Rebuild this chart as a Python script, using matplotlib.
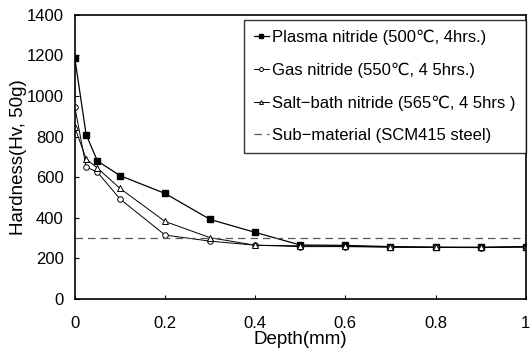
import matplotlib
matplotlib.use("Agg")
import matplotlib.pyplot as plt

plt.rcParams['font.family'] = ['Liberation Sans', 'DejaVu Sans']

depth = [0, 0.025, 0.05, 0.1, 0.2, 0.3, 0.4, 0.5, 0.6, 0.7, 0.8, 0.9, 1.0]
plasma = [1185, 810, 680, 608, 520, 392, 328, 266, 264, 258, 255, 255, 258]
gas = [945, 650, 625, 493, 315, 285, 265, 258, 258, 255, 254, 253, 256]
salt = [845, 690, 645, 545, 382, 302, 265, 262, 260, 257, 255, 254, 257]
sub_x = [0, 1.0]
sub_y = [300, 300]

labels = ["Plasma nitride (500\u2103, 4hrs.)",
          "Gas nitride (550\u2103, 4 5hrs.)",
          "Salt\u2212bath nitride (565\u2103, 4 5hrs )",
          "Sub\u2212material (SCM415 steel)"]
xticks = [0, 0.2, 0.4, 0.6, 0.8, 1.0]
xticklabels = ["0", "0.2", "0.4", "0.6", "0.8", "1"]
yticks = [0, 200, 400, 600, 800, 1000, 1200, 1400]

fig = plt.figure(figsize=(5.31, 3.53), dpi=100)
ax = fig.add_axes([0.141, 0.153, 0.849, 0.805])

ax.plot(depth, plasma, color='black', lw=0.9, marker='s', ms=5, mfc='black', label=labels[0])
ax.plot(depth, gas, color='black', lw=0.7, marker='o', ms=4, mfc='white', mew=0.7, label=labels[1])
ax.plot(depth, salt, color='black', lw=0.7, marker='^', ms=4, mfc='white', mew=0.7, label=labels[2])
ax.plot(sub_x, sub_y, color='#555555', lw=0.9, ls=(0, (6, 4)), label=labels[3])

ax.set_xlim(0, 1.0)
ax.set_ylim(0, 1400)
ax.set_xticks(xticks)
ax.set_xticklabels(xticklabels)
ax.set_yticks(yticks)
ax.tick_params(direction='in', length=3, labelsize=12)
ax.tick_params(axis='x', pad=12)
ax.tick_params(axis='y', pad=8)
for s in ax.spines.values():
    s.set_linewidth(1.2)

ax.set_xlabel("Depth(mm)", fontsize=13.5, labelpad=0)
ax.set_ylabel("Hardness(Hv, 50g)", fontsize=13.5, labelpad=0)

leg = ax.legend(loc='upper right', bbox_to_anchor=(1.0, 0.983), fontsize=12,
                frameon=True, fancybox=False, edgecolor='black',
                handlelength=0.9, handletextpad=0.2, borderpad=0.6,
                labelspacing=1.05, borderaxespad=0.0, markerscale=0.7)
leg.get_frame().set_linewidth(1.0)

fig.savefig("out.png", dpi=100)
